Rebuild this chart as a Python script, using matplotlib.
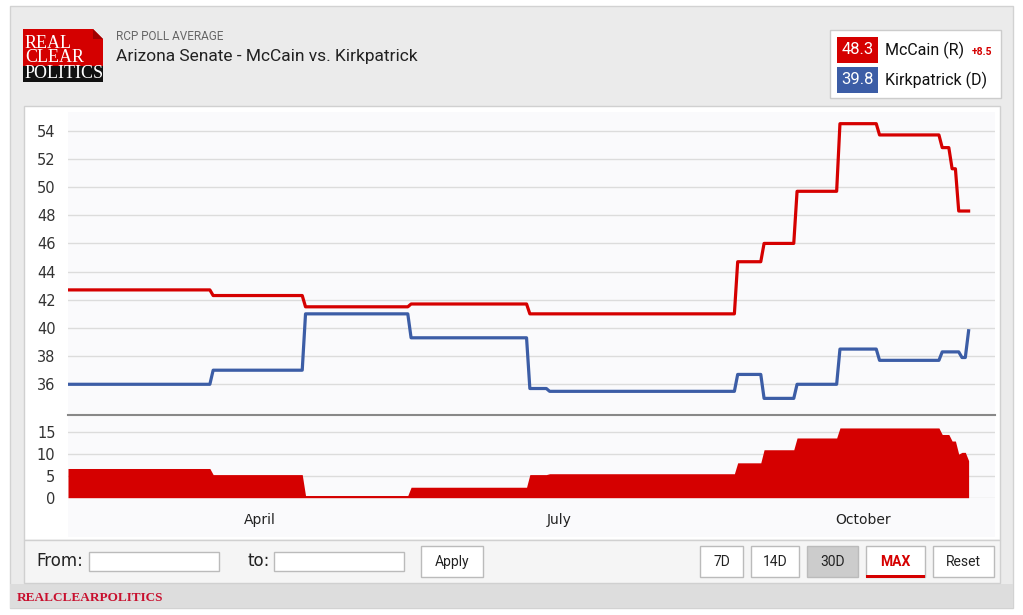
import numpy as np
import pandas as pd
import matplotlib
matplotlib.use("Agg")
import matplotlib.pyplot as plt
from matplotlib.patches import Rectangle, Polygon

# poll average change points (value holds until the next change)
mccain_dates = ['2016-02-03', '2016-03-18', '2016-04-15', '2016-05-17', '2016-06-22',
                '2016-08-24', '2016-09-01', '2016-09-11', '2016-09-24', '2016-10-06',
                '2016-10-25', '2016-10-28', '2016-10-30', '2016-11-02']
mccain_vals = [42.7, 42.3, 41.5, 41.7, 41.0, 44.7, 46.0, 49.7, 54.5, 53.7, 52.8, 51.3, 48.3, 48.3]

kirk_dates = ['2016-02-03', '2016-03-18', '2016-04-15', '2016-05-17', '2016-06-22',
              '2016-06-28', '2016-08-24', '2016-09-01', '2016-09-11', '2016-09-24',
              '2016-10-06', '2016-10-25', '2016-10-31', '2016-11-02']
kirk_vals = [36.0, 37.0, 41.0, 39.3, 35.7, 35.5, 36.7, 35.0, 36.0, 38.5, 37.7, 38.3, 37.9, 39.8]

month_ticks = ['2016-04-01', '2016-07-01', '2016-10-01']
month_labels = ['April', 'July', 'October']
upper_ticks = [36, 38, 40, 42, 44, 46, 48, 50, 52, 54]
lower_ticks = [0, 5, 10, 15]

title = "Arizona Senate - McCain vs. Kirkpatrick"
subtitle = "RCP POLL AVERAGE"
legend_names = ["McCain (R)", "Kirkpatrick (D)"]
spread_label = "+8.5"

RED = '#d50000'
BLUE = '#3c5da6'

W, H = 1023, 615


def fx(x):
    return x / W


def fy(y):
    return 1 - y / H


def box(fig, x0, y0, x1, y1, **kw):
    r = Rectangle((fx(x0), fy(y1)), fx(x1) - fx(x0), fy(y0) - fy(y1),
                  transform=fig.transFigure, **kw)
    fig.patches.append(r)
    return r


def step_series(dates, vals):
    s = pd.Series(vals, index=pd.to_datetime(dates))
    s = s[~s.index.duplicated(keep='last')]
    days = pd.date_range(s.index[0], s.index[-1], freq='D')
    return s.reindex(days).ffill()


mccain = step_series(mccain_dates, mccain_vals)
kirk = step_series(kirk_dates, kirk_vals)
spread = mccain - kirk

fig = plt.figure(figsize=(W / 100, H / 100), dpi=100)
fig.patch.set_facecolor('white')

# page frame
box(fig, 10, 6, 1013, 608, facecolor='#ebebeb', edgecolor='#d2d2d2', lw=1, zorder=0)
box(fig, 10, 584, 1013, 608, facecolor='#dddddd', edgecolor='none', zorder=0)
box(fig, 24, 106, 1000, 540, facecolor='white', edgecolor='#d0d0d0', lw=1, zorder=0)
box(fig, 24, 540, 1000, 583, facecolor='#f5f5f5', edgecolor='#d0d0d0', lw=1, zorder=0)
box(fig, 68, 112, 995, 537, facecolor='#fafafc', edgecolor='none', zorder=0)

# logo
box(fig, 23, 29, 103, 66, facecolor='#d40000', edgecolor='none', zorder=1)
box(fig, 23, 66, 103, 82, facecolor='#111111', edgecolor='none', zorder=1)
fig.patches.append(Polygon([(fx(93), fy(29)), (fx(103), fy(29)), (fx(103), fy(39))],
                           closed=True, transform=fig.transFigure,
                           facecolor='#ebebeb', edgecolor='none', zorder=2))
fig.patches.append(Polygon([(fx(93), fy(29)), (fx(93), fy(39)), (fx(103), fy(39))],
                           closed=True, transform=fig.transFigure,
                           facecolor='#a00000', edgecolor='none', zorder=2))
for word, yy in [("REAL", 43), ("CLEAR", 58), ("POLITICS", 74)]:
    fig.text(fx(25), fy(yy), word, color='white', fontsize=13,
             family='Liberation Serif', va='center', ha='left', zorder=3)

fig.text(fx(116), fy(36), subtitle, color='#666666', fontsize=8.5, family='Roboto', va='center')
fig.text(fx(116), fy(57), title, color='#222222', fontsize=12.5, family='Roboto', va='center')

# legend box
box(fig, 830, 30, 1001, 98, facecolor='white', edgecolor='#cccccc', lw=1, zorder=1)
for i, (col, val, name) in enumerate([(RED, mccain.iloc[-1], legend_names[0]),
                                       (BLUE, kirk.iloc[-1], legend_names[1])]):
    y0 = 37 + i * 30
    box(fig, 837, y0, 878, y0 + 26, facecolor=col, edgecolor='none', zorder=2)
    fig.text(fx(857.5), fy(y0 + 13), f"{val:.1f}", color='white', fontsize=12,
             family='Roboto', ha='center', va='center', zorder=3)
    fig.text(fx(885), fy(y0 + 13), name, color='#111111', fontsize=11.5,
             family='Roboto', ha='left', va='center')
fig.text(fx(972), fy(52), spread_label, color=RED, fontsize=7.5, fontweight='bold',
         family='Roboto', ha='left', va='center')

# main chart
xlim = (pd.Timestamp('2016-02-03'), pd.Timestamp('2016-11-10'))
ax = fig.add_axes([fx(68), fy(415), fx(995) - fx(68), fy(111.7) - fy(415)], zorder=5)
ax.set_facecolor('none')
ax.plot(mccain.index, mccain.values, color=RED, lw=2.3, zorder=3)
ax.plot(kirk.index, kirk.values, color=BLUE, lw=2.3, zorder=3)
ax.set_xlim(*xlim)
ax.set_ylim(33.82, 55.35)
ax.set_yticks(upper_ticks)
ax.grid(axis='y', color='#dcdcdc', lw=1)
ax.set_axisbelow(True)
ax.tick_params(axis='y', length=0, pad=9, labelsize=10.5, labelcolor='#333333')
ax.tick_params(axis='x', length=0, labelbottom=False)
for side in ['top', 'left', 'right']:
    ax.spines[side].set_visible(False)
ax.spines['bottom'].set_color('#888888')
ax.spines['bottom'].set_linewidth(1.5)

# spread navigator
ax2 = fig.add_axes([fx(68), fy(497.7), fx(995) - fx(68), fy(415) - fy(497.7)], zorder=5)
ax2.set_facecolor('none')
ax2.fill_between(spread.index, 0, spread.values, color=RED, lw=0, zorder=3)
ax2.set_xlim(*xlim)
ax2.set_ylim(0, 18.97)
ax2.set_yticks(lower_ticks)
ax2.grid(axis='y', color='#dcdcdc', lw=1)
ax2.set_axisbelow(True)
ax2.set_xticks(pd.to_datetime(month_ticks))
ax2.set_xticklabels(month_labels)
ax2.tick_params(axis='y', length=0, pad=9, labelsize=10.5, labelcolor='#333333')
ax2.tick_params(axis='x', length=0, pad=11, labelsize=10, labelcolor='#222222')
for side in ax2.spines:
    ax2.spines[side].set_visible(False)

# range selector bar
fig.text(fx(36), fy(561), "From:", fontsize=12, family='DejaVu Sans', color='#222222', va='center')
box(fig, 89, 552, 219, 571, facecolor='white', edgecolor='#bbbbbb', lw=1, zorder=1)
fig.text(fx(247), fy(561), "to:", fontsize=12, family='DejaVu Sans', color='#222222', va='center')
box(fig, 274, 552, 404, 571, facecolor='white', edgecolor='#bbbbbb', lw=1, zorder=1)

buttons = [("Apply", 421, 483), ("7D", 700, 743), ("14D", 751, 799),
           ("30D", 807, 858), ("MAX", 866, 925), ("Reset", 933, 994)]
for label, x0, x1 in buttons:
    face = '#cccccc' if label == "30D" else 'white'
    box(fig, x0, 546, x1, 577, facecolor=face, edgecolor='#bbbbbb', lw=1, zorder=1)
    is_max = label == "MAX"
    fig.text(fx((x0 + x1) / 2), fy(562), label, fontsize=10, family='Roboto',
             color=RED if is_max else '#222222', fontweight='bold' if is_max else 'normal',
             ha='center', va='center')
box(fig, 866, 575, 925, 578, facecolor=RED, edgecolor='none', zorder=2)

fig.text(fx(17), fy(598), "REALCLEARPOLITICS", color='#c8102e', fontsize=9.5,
         fontweight='bold', family='Liberation Serif', va='center', ha='left')

fig.savefig("out.png", dpi=100)
